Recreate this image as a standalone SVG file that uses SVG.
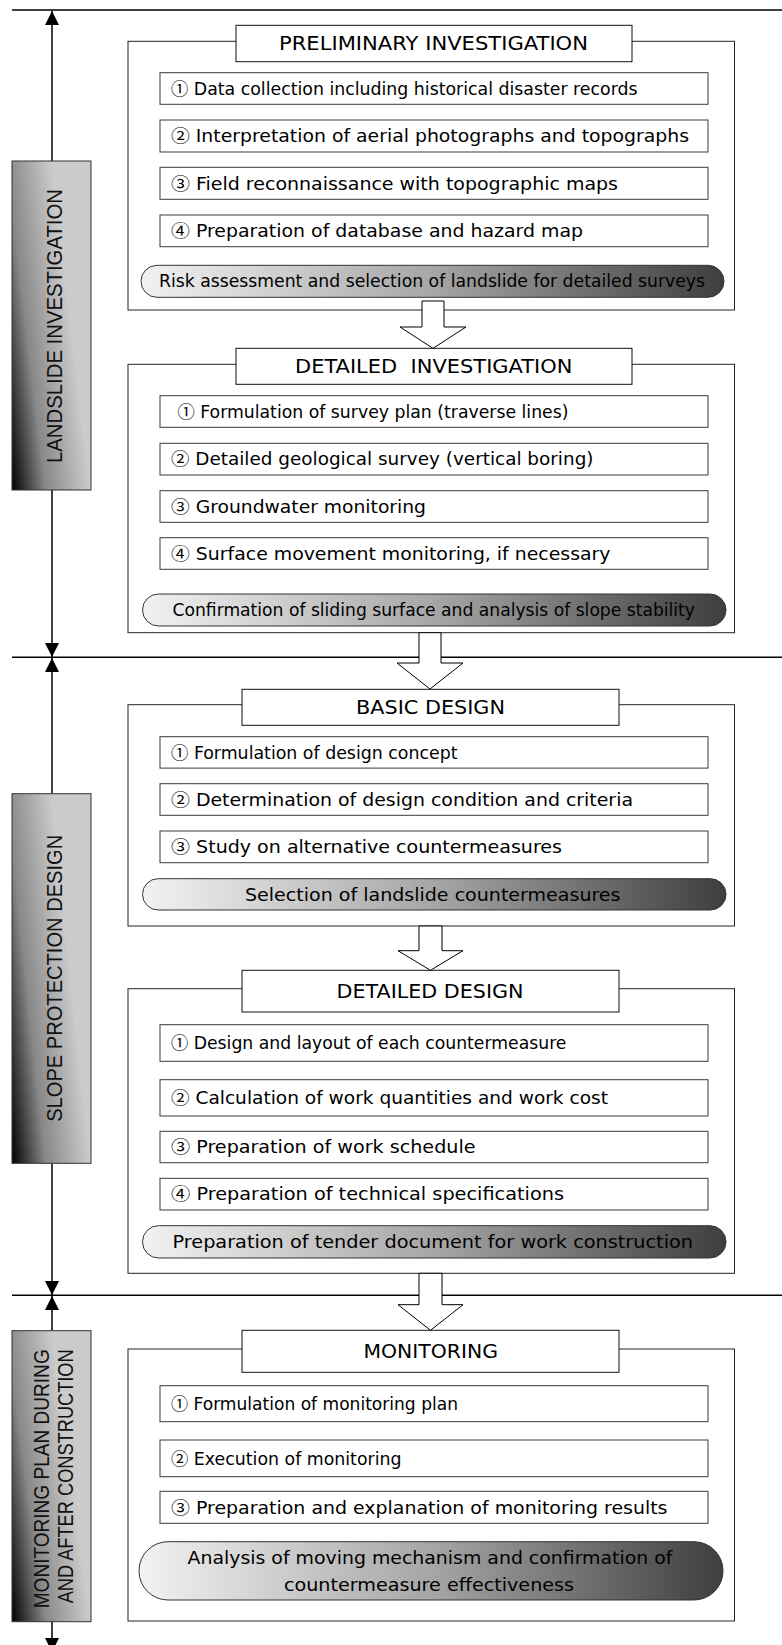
<svg xmlns="http://www.w3.org/2000/svg" width="782" height="1645" viewBox="0 0 782 1645">
<style>
.bg{fill:#fff}
.outer{fill:#fff;stroke:#222;stroke-width:1}
.title{fill:#fff;stroke:#111;stroke-width:1}
.item{fill:#fff;stroke:#3a3a3a;stroke-width:1}
.pill{fill:url(#pillGrad);stroke:#333;stroke-width:1}
.bar{fill:url(#barGrad);stroke:#333;stroke-width:1}
.conn{stroke:#000;stroke-width:1.5;fill:none}
.block{fill:#fff;stroke:#000;stroke-width:1}
.t{font-family:"DejaVu Sans","Noto Sans CJK JP",sans-serif;fill:#000}
.n{font-family:"Noto Sans CJK JP","DejaVu Sans",sans-serif}
.tt{font-size:19.5px;text-anchor:middle}
.ti{font-size:17px}
.tp{font-size:17px}
.side{font-family:"Liberation Sans",Arial,sans-serif;font-size:22px;fill:#111;text-anchor:middle}
</style>
<defs>
<linearGradient id="pillGrad" x1="0" y1="0" x2="1" y2="0">
<stop offset="0" stop-color="#f2f2f2"/>
<stop offset="0.5" stop-color="#a6a6a6"/>
<stop offset="1" stop-color="#3e3e3e"/>
</linearGradient>
<linearGradient id="barGrad" x1="0" y1="1" x2="1.143" y2="0.429">
<stop offset="0" stop-color="#000"/>
<stop offset="0.3" stop-color="#888"/>
<stop offset="0.7" stop-color="#cbcbcb"/>
<stop offset="1" stop-color="#cbcbcb"/>
</linearGradient>
<marker id="ah" markerUnits="userSpaceOnUse" markerWidth="14" markerHeight="14" refX="14" refY="7" orient="auto" viewBox="0 0 14 14">
<path d="M0,0 L14,7 L0,14 Z" fill="#000"/>
</marker>
</defs>
<rect class="bg" x="0" y="0" width="782" height="1645"/>

<g id="connectors">
<line class="conn" x1="12" y1="10" x2="782" y2="10"/>
<line class="conn" x1="12" y1="657.3" x2="782" y2="657.3"/>
<line class="conn" x1="12" y1="1295.3" x2="782" y2="1295.3"/>
<line class="conn" x1="52" y1="161" x2="52" y2="11" marker-end="url(#ah)"/>
<line class="conn" x1="52" y1="490" x2="52" y2="657" marker-end="url(#ah)"/>
<line class="conn" x1="52" y1="793.7" x2="52" y2="658" marker-end="url(#ah)"/>
<line class="conn" x1="52" y1="1163.3" x2="52" y2="1295" marker-end="url(#ah)"/>
<line class="conn" x1="52" y1="1330.7" x2="52" y2="1296" marker-end="url(#ah)"/>
<line class="conn" x1="52" y1="1621.7" x2="52" y2="1652" marker-end="url(#ah)"/>
</g>

<g id="bar-landslide">
<rect class="bar" x="12" y="161" width="79" height="329"/>
<text class="side" transform="translate(61.5,326) rotate(-90)" textLength="274" lengthAdjust="spacingAndGlyphs">LANDSLIDE INVESTIGATION</text>
</g>
<g id="bar-slope">
<rect class="bar" x="12" y="793.7" width="79" height="369.6"/>
<text class="side" transform="translate(61.5,978.3) rotate(-90)" textLength="287" lengthAdjust="spacingAndGlyphs">SLOPE PROTECTION DESIGN</text>
</g>
<g id="bar-monitoring">
<rect class="bar" x="12" y="1330.7" width="79" height="291"/>
<text class="side" transform="translate(49.3,1478.8) rotate(-90)" textLength="259" lengthAdjust="spacingAndGlyphs">MONITORING PLAN DURING</text>
<text class="side" transform="translate(72.7,1476.3) rotate(-90)" textLength="254" lengthAdjust="spacingAndGlyphs">AND AFTER CONSTRUCTION</text>
</g>

<g id="preliminary">
<rect class="outer" x="128" y="41.3" width="606.5" height="268.7"/>
<rect class="title" x="236" y="25.3" width="396" height="36.4"/>
<text class="t tt" x="433.5" y="50" textLength="309" lengthAdjust="spacingAndGlyphs">PRELIMINARY INVESTIGATION</text>
<rect class="item" x="160" y="72.7" width="548" height="31.6"/>
<text class="t ti" x="171" y="95" textLength="466.5" lengthAdjust="spacingAndGlyphs"><tspan class="n">①</tspan> Data collection including historical disaster records</text>
<rect class="item" x="160" y="120" width="548" height="32"/>
<text class="t ti" x="171" y="142.3" textLength="518" lengthAdjust="spacingAndGlyphs"><tspan class="n">②</tspan> Interpretation of aerial photographs and topographs</text>
<rect class="item" x="160" y="167.3" width="548" height="32"/>
<text class="t ti" x="171" y="189.6" textLength="447" lengthAdjust="spacingAndGlyphs"><tspan class="n">③</tspan> Field reconnaissance with topographic maps</text>
<rect class="item" x="160" y="215" width="548" height="31.7"/>
<text class="t ti" x="171" y="237.2" textLength="412" lengthAdjust="spacingAndGlyphs"><tspan class="n">④</tspan> Preparation of database and hazard map</text>
<rect class="pill" x="141" y="265.3" width="583" height="32" rx="16" ry="16"/>
<text class="t tp" x="159" y="287.2" textLength="546" lengthAdjust="spacingAndGlyphs">Risk assessment and selection of landslide for detailed surveys</text>
</g>

<g id="detailed-investigation">
<rect class="outer" x="128" y="364.3" width="606.5" height="268.4"/>
<rect class="title" x="236" y="348.3" width="396" height="36"/>
<text class="t tt" x="433.75" y="372.8" textLength="277.5" lengthAdjust="spacingAndGlyphs" style="white-space:pre">DETAILED  INVESTIGATION</text>
<rect class="item" x="160" y="395.7" width="548" height="31.6"/>
<text class="t ti" x="177.5" y="417.8" textLength="391" lengthAdjust="spacingAndGlyphs"><tspan class="n">①</tspan> Formulation of survey plan (traverse lines)</text>
<rect class="item" x="160" y="443.3" width="548" height="31.7"/>
<text class="t ti" x="171" y="465.4" textLength="422.5" lengthAdjust="spacingAndGlyphs"><tspan class="n">②</tspan> Detailed geological survey (vertical boring)</text>
<rect class="item" x="160" y="490.7" width="548" height="31.6"/>
<text class="t ti" x="171" y="512.8" textLength="255" lengthAdjust="spacingAndGlyphs"><tspan class="n">③</tspan> Groundwater monitoring</text>
<rect class="item" x="160" y="537.7" width="548" height="31.6"/>
<text class="t ti" x="171" y="559.8" textLength="439.5" lengthAdjust="spacingAndGlyphs"><tspan class="n">④</tspan> Surface movement monitoring, if necessary</text>
<rect class="pill" x="142.5" y="594" width="583.5" height="32" rx="16" ry="16"/>
<text class="t tp" x="172.5" y="616" textLength="522.5" lengthAdjust="spacingAndGlyphs">Confirmation of sliding surface and analysis of slope stability</text>
</g>

<g id="basic-design">
<rect class="outer" x="128" y="704.7" width="606.5" height="221.3"/>
<rect class="title" x="242" y="689.3" width="377" height="36"/>
<text class="t tt" x="430.5" y="713.8" textLength="149" lengthAdjust="spacingAndGlyphs">BASIC DESIGN</text>
<rect class="item" x="160" y="736.7" width="548" height="31.4"/>
<text class="t ti" x="171" y="758.7" textLength="286.5" lengthAdjust="spacingAndGlyphs"><tspan class="n">①</tspan> Formulation of design concept</text>
<rect class="item" x="160" y="783.7" width="548" height="31.6"/>
<text class="t ti" x="171" y="805.8" textLength="462" lengthAdjust="spacingAndGlyphs"><tspan class="n">②</tspan> Determination of design condition and criteria</text>
<rect class="item" x="160" y="831" width="548" height="31.7"/>
<text class="t ti" x="171" y="853.1" textLength="391" lengthAdjust="spacingAndGlyphs"><tspan class="n">③</tspan> Study on alternative countermeasures</text>
<rect class="pill" x="142.5" y="878.7" width="583.5" height="31.3" rx="15.6" ry="15.6"/>
<text class="t tp" x="245" y="900.6" textLength="375.5" lengthAdjust="spacingAndGlyphs">Selection of landslide countermeasures</text>
</g>

<g id="detailed-design">
<rect class="outer" x="128" y="988.7" width="606.5" height="284.6"/>
<rect class="title" x="242" y="970.3" width="377" height="41.7"/>
<text class="t tt" x="430" y="997.7" textLength="187" lengthAdjust="spacingAndGlyphs">DETAILED DESIGN</text>
<rect class="item" x="160" y="1024.7" width="548" height="36.6"/>
<text class="t ti" x="171" y="1049.3" textLength="395.5" lengthAdjust="spacingAndGlyphs"><tspan class="n">①</tspan> Design and layout of each countermeasure</text>
<rect class="item" x="160" y="1079.7" width="548" height="36.3"/>
<text class="t ti" x="171" y="1104.2" textLength="437" lengthAdjust="spacingAndGlyphs"><tspan class="n">②</tspan> Calculation of work quantities and work cost</text>
<rect class="item" x="160" y="1131.3" width="548" height="31.4"/>
<text class="t ti" x="171" y="1153.3" textLength="304.5" lengthAdjust="spacingAndGlyphs"><tspan class="n">③</tspan> Preparation of work schedule</text>
<rect class="item" x="160" y="1178.3" width="548" height="31.7"/>
<text class="t ti" x="171" y="1200.4" textLength="393" lengthAdjust="spacingAndGlyphs"><tspan class="n">④</tspan> Preparation of technical specifications</text>
<rect class="pill" x="142.5" y="1225.7" width="583.5" height="32.3" rx="16" ry="16"/>
<text class="t tp" x="172.5" y="1248" textLength="520.5" lengthAdjust="spacingAndGlyphs">Preparation of tender document for work construction</text>
</g>

<g id="monitoring">
<rect class="outer" x="128" y="1349" width="606.5" height="272"/>
<rect class="title" x="242" y="1330.3" width="377" height="42"/>
<text class="t tt" x="430.75" y="1357.6" textLength="134.5" lengthAdjust="spacingAndGlyphs">MONITORING</text>
<rect class="item" x="160" y="1385.7" width="548" height="36"/>
<text class="t ti" x="171" y="1410" textLength="287" lengthAdjust="spacingAndGlyphs"><tspan class="n">①</tspan> Formulation of monitoring plan</text>
<rect class="item" x="160" y="1440" width="548" height="36.7"/>
<text class="t ti" x="171" y="1464.6" textLength="230.5" lengthAdjust="spacingAndGlyphs"><tspan class="n">②</tspan> Execution of monitoring</text>
<rect class="item" x="160" y="1491.3" width="548" height="32"/>
<text class="t ti" x="171" y="1513.6" textLength="496.5" lengthAdjust="spacingAndGlyphs"><tspan class="n">③</tspan> Preparation and explanation of monitoring results</text>
<rect class="pill" x="139" y="1541.7" width="584" height="58.3" rx="29" ry="29"/>
<text class="t tp" x="187.5" y="1564" textLength="485" lengthAdjust="spacingAndGlyphs">Analysis of moving mechanism and confirmation of</text>
<text class="t tp" x="284" y="1590.5" textLength="290" lengthAdjust="spacingAndGlyphs">countermeasure effectiveness</text>
</g>

<g id="flow-arrows">
<path class="block" d="M422,301 L444,301 L444,327 L466,327 L433,348.3 L400,327 L422,327 Z"/>
<path class="block" d="M419,632.7 L441,632.7 L441,663 L463,663 L430,689 L397,663 L419,663 Z"/>
<path class="block" d="M419,926 L442,926 L442,950.7 L463,950.7 L430.5,970.3 L398,950.7 L419,950.7 Z"/>
<path class="block" d="M419,1273.3 L442,1273.3 L442,1304.7 L463,1304.7 L430.5,1330.3 L398,1304.7 L419,1304.7 Z"/>
</g>
</svg>
